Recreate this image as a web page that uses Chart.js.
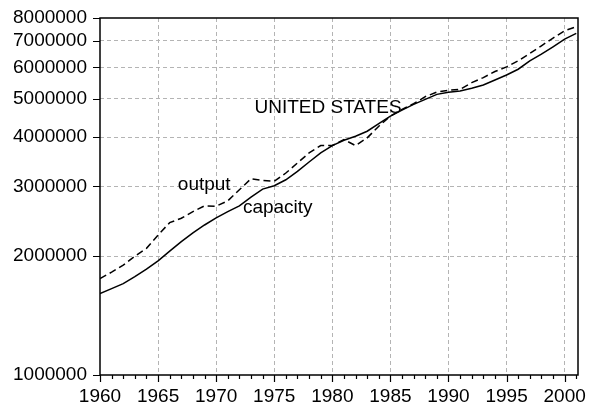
<!DOCTYPE html>
<html>
<head>
<meta charset="utf-8">
<script src="https://cdn.jsdelivr.net/npm/chart.js@4"></script>
<style>
  body { margin: 0; background: #fff; }
  #box { width: 589px; height: 413px; }
</style>
</head>
<body>
<div id="box"><canvas id="grafico"></canvas></div>
<script>
// anos (dados anuais)
const anos = [1960,1961,1962,1963,1964,1965,1966,1967,1968,1969,1970,1971,1972,1973,1974,1975,1976,1977,1978,1979,1980,
  1981,1982,1983,1984,1985,1986,1987,1988,1989,1990,1991,1992,1993,1994,1995,1996,1997,1998,1999,2000,2001];

const capacity = [1606000,1654000,1703000,1773000,1852000,1945000,2058000,2174000,2287000,2396000,2496000,
  2590000,2678000,2818000,2953000,3011000,3118000,3273000,3458000,3645000,3805000,
  3925000,4018000,4137000,4327000,4516000,4678000,4836000,4980000,5128000,5188000,
  5228000,5311000,5414000,5575000,5741000,5936000,6232000,6481000,6765000,7076000,7316000];

const output = [1754000,1820000,1896000,1998000,2091000,2260000,2429000,2492000,2590000,2678000,2673000,
  2757000,2941000,3137000,3106000,3090000,3243000,3439000,3645000,3805000,3805000,
  3941000,3805000,3980000,4259000,4516000,4697000,4857000,5059000,5197000,5250000,
  5281000,5491000,5654000,5857000,6017000,6232000,6508000,6804000,7117000,7428000,7603000];

const ticksX = [1960,1965,1970,1975,1980,1985,1990,1995,2000];
const ticksY = [1000000,2000000,3000000,4000000,5000000,6000000,7000000,8000000];

// textos soltos dentro do grafico (ano, valor)
const anotacoes = [
  { texto: 'UNITED STATES', x: 1973.3, y: 4750000 },
  { texto: 'output', x: 1966.7, y: 3030000 },
  { texto: 'capacity', x: 1972.3, y: 2647000 }
];

const fonte = '"Liberation Sans", Arial, sans-serif';

// moldura, marcas dos eixos e textos
const pluginMoldura = {
  id: 'moldura',
  afterDraw(chart) {
    const ctx = chart.ctx;
    const a = chart.chartArea;
    const sx = chart.scales.x;
    const sy = chart.scales.y;
    ctx.save();
    ctx.strokeStyle = '#000';
    ctx.lineWidth = 1.5;
    ctx.setLineDash([]);
    ctx.strokeRect(a.left, a.top, a.right - a.left, a.bottom - a.top);

    ctx.lineWidth = 1.2;
    ctx.beginPath();
    for (let ano = anos[0]; ano <= anos[anos.length - 1]; ano++) {
      const px = Math.round(sx.getPixelForValue(ano)) + 0.5;
      const len = ano % 5 === 0 ? 7 : 4;
      ctx.moveTo(px, a.bottom);
      ctx.lineTo(px, a.bottom + len);
    }
    ticksY.forEach(v => {
      const py = Math.round(sy.getPixelForValue(v)) + 0.5;
      ctx.moveTo(a.left, py);
      ctx.lineTo(a.left - 7, py);
    });
    ctx.stroke();

    ctx.fillStyle = '#000';
    ctx.font = '19px ' + fonte;
    ctx.textBaseline = 'middle';
    ctx.textAlign = 'left';
    anotacoes.forEach(t => {
      ctx.fillText(t.texto, sx.getPixelForValue(t.x), sy.getPixelForValue(t.y));
    });
    ctx.restore();
  }
};

new Chart(document.getElementById('grafico'), {
  type: 'line',
  plugins: [pluginMoldura],
  data: {
    datasets: [
      {
        label: 'capacity',
        data: anos.map((a, i) => ({ x: a, y: capacity[i] })),
        borderColor: '#000',
        borderWidth: 1.5,
        pointRadius: 0,
        tension: 0
      },
      {
        label: 'output',
        data: anos.map((a, i) => ({ x: a, y: output[i] })),
        borderColor: '#000',
        borderWidth: 1.5,
        borderDash: [7, 4],
        pointRadius: 0,
        tension: 0
      }
    ]
  },
  options: {
    responsive: true,
    maintainAspectRatio: false,
    animation: false,
    layout: { padding: { left: 0, right: 11, top: 18, bottom: 0 } },
    plugins: {
      legend: { display: false },
      tooltip: { enabled: false }
    },
    scales: {
      x: {
        type: 'linear',
        min: 1960,
        max: 2001.15,
        afterBuildTicks: s => { s.ticks = ticksX.map(v => ({ value: v })); },
        afterFit: s => { s.height = 38; s.paddingLeft = 0; s.paddingRight = 0; },
        grid: {
          drawTicks: false,
          color: c => c.tick && c.tick.value === 1960 ? 'rgba(0,0,0,0)' : '#b4b4b4',
          lineWidth: 1
        },
        border: { display: false, dash: [4, 3] },
        ticks: {
          color: '#000',
          padding: 10,
          maxRotation: 0,
          autoSkip: false,
          font: { family: fonte, size: 19 },
          callback: v => String(v)
        }
      },
      y: {
        type: 'logarithmic',
        min: 1000000,
        max: 8000000,
        afterBuildTicks: s => { s.ticks = ticksY.map(v => ({ value: v })); },
        afterFit: s => { s.width = 100; s.paddingTop = 0; s.paddingBottom = 0; },
        grid: {
          drawTicks: false,
          color: c => c.tick && (c.tick.value === 1000000 || c.tick.value === 8000000) ? 'rgba(0,0,0,0)' : '#b4b4b4',
          lineWidth: 1
        },
        border: { display: false, dash: [4, 3] },
        ticks: {
          color: '#000',
          padding: 13,
          autoSkip: false,
          font: { family: fonte, size: 19 },
          callback: v => String(v)
        }
      }
    }
  }
});
</script>
</body>
</html>
